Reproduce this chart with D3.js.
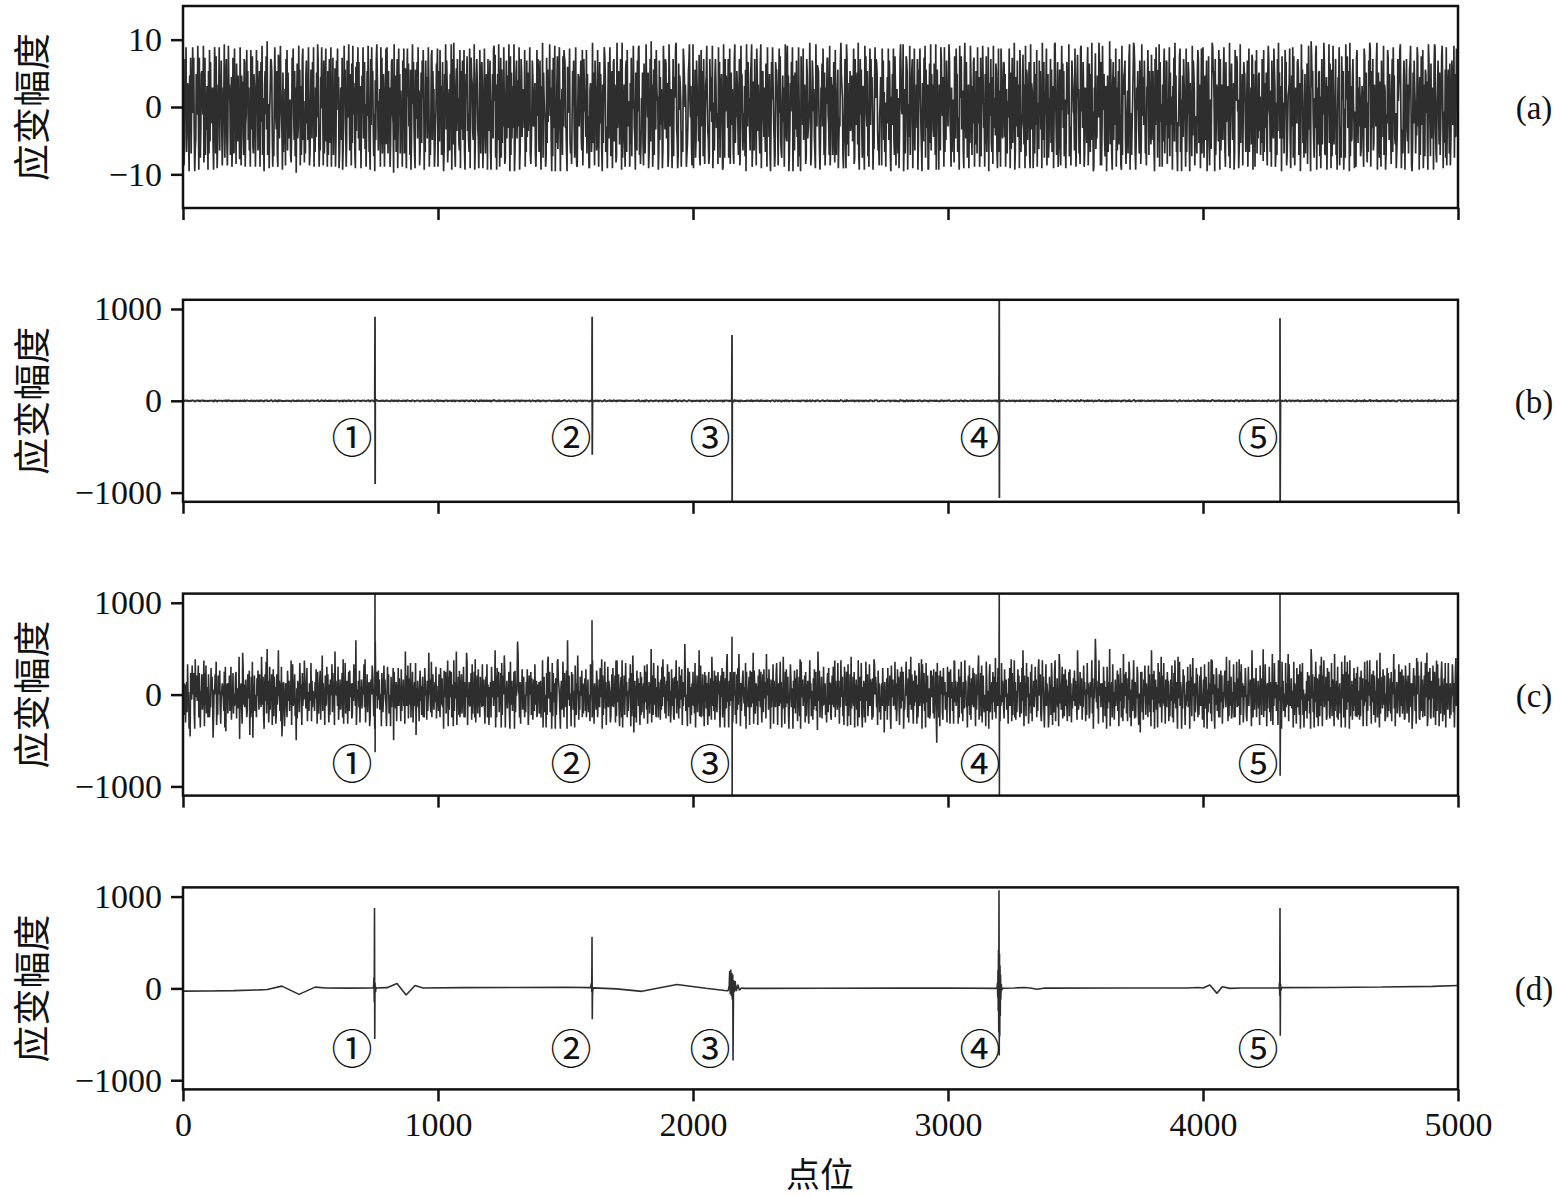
<!DOCTYPE html>
<html>
<head>
<meta charset="utf-8">
<script src="https://cdn.jsdelivr.net/npm/d3@7/dist/d3.min.js"></script>
<style>
  body { margin: 0; background: #fff; }
  svg text { font-family: "Liberation Serif", "Times New Roman", serif; fill: #111; }
  .cjk { font-family: "Noto Sans CJK SC", sans-serif; }
</style>
</head>
<body>
<svg id="chart" width="1560" height="1196"></svg>
<script>
// x positions (points) for the five impact events
var eventPos = [753, 1604, 2153, 3201, 4302];
var eventNames = ["①", "②", "③", "④", "⑤"];
var eventLabelX = [663, 1522, 2067, 3125, 4216];
var panelNames = ["(a)", "(b)", "(c)", "(d)"];
var xTicks = [0, 1000, 2000, 3000, 4000, 5000];

// (a) background noise, digit 0..9 -> -10..10
var noiseA = [
"7302859146620738155948301276495082137764902815364071928355620497183026591748302659147820396651470283",
"1946085273319507462188034957261409538217650394812670583915206748391250468873021596437108825964307152",
"6083917425510386942716058239470613892504178362950147628390516274983021769450813692407158239064815370",
"2859470136628014957302846951730829465107384928156037492681503749612083957314062897415360928147503692",
"9417360258843092571680394716250839147206958341702695831074582936014728596031847259603148927560134879",
"0572936148201749386025617390482951067384521906738249105768342190587632490157863204951786023941576083",
"3681045729958160372940581726394015827639408172563901478265390148726553904182735691024873356102948713",
"8206391754401827365946207183590426813794052618398833107456921204768315920047736582190386452917340066",
"5139274086612950383741062598713304826951470388265019347726850913462078193554062817496320751849913025",
"4720851396647013829560271843965501827364019753882460197356204817569932018476502319874650123789546201",
"9053712864428105936718204679532018647390251786344092815673009218476538129047365108924476315802957314",
"2617094385531789026418350973642189057742631850946271038596420187753069482115736049822957013648590271",
"7348260951108473926650187234596013874621095387741026583941702658843190275614830921567024389765103482",
"0982615473376259018436729105847316620958437120693857402169588731204576093826150447392861054739218606",
"6215038974459026138870452913678042915364802779531064285917346005829174632851907743062198547309162854",
"3798420615540832967142095783361079528413605297416388052761934702815596340728153906648217093542871039",
"1460973258827036154493071682549017348256097133485260917725481093665028147390521847360925814469037125",
"5827136049963148025720694837152038674912305876441920378561209947385016642790385172934006581327649850",
"8039547216604715392851068274390615728430091657782034615890421357998102647531860294473851206695174328",
"2574108396617290843506279143880526917345065829471203368915047286530914487206351928760433179825604917",
"9316725804482053169977408136552970813642795108346621907584236019758845013926470587731268049153628807",
"4608391527735142860915637207984416085329760151839472660832514978013566920473918205643887126039572415",
"7152804963309867421538904627715038264981157036492860713942558120476903318657024195683470916227853041",
"0894263751156420983372051869904738126553890472163085729166014398527430681957224013856799402316870538",
"3261578940027386514298360714853902617746209853182465079931056842713589604427190367518025863491722965"
].join("");

// (c) measurement noise, digit 0..9 -> about -580..580
var noiseC = [
"4563524637452316547456328546457364254634582647354365243756413546572436547324565436271546354634725463",
"5346725435814563287453564236547152637154635426475365438546325647384624735462573645236458463527135642",
"3654275463548267345634152645376542635486534725436547263545364752643567254836452634756425364573645285",
"6453724563456382547356425637456235476549235463725463546738254635462356476534295463574635426534756432",
"4756345263547165436254736452735463528546372564735462356471536452674534625376452634856437256435647253",
"5364275463527456345826374563452736548254637245634572635487254634562735463824563745265437456325647354",
"2546375463548263745635462736548725463546327456354627354698543625473564253647523645736425637456235463",
"4635472563452637845634527364552634786543256347526345729546345275634527436584253645726354637254635427",
"5647352645376245637458263547362547365423564735462837456324563725463574625346572634851463527463542736",
"3546275463725463548265374563254736452637485463526475364523746532645736452736457263549635427536425364",
"6453725463548367254635274635426735462854637256435746325647356425637845263745632574635263748562534675",
"4537264535627436548275346352647536425637456285463745263547265436752643574625384526374563245763542637",
"5364725463827546354627354632574635426375463518647354625374563425637456325647358264537462537456342756",
"4652735462835463725463527436547325463527456345736542635874653427563425637451635462735463275463547362",
"3756425637456243567453627548365426375462534763548275463527456345236745637254630745362745632754635427",
"5463275463528746354627356473526437563425647352645736542635478254637256435427635426735462754638256473",
"6425374653274563542637458263547362534756425637485264537456235463725463574625378456324756324573654236",
"4537625436725463528746357246357463254637562435647365428635473562437564253746523645736254698463527456",
"3645274635427365482546373524635473625476354283645736254763524635742635476325417463526475364527463528",
"5463725643527465348256473526437562435647352647536428547365243756425364735627463584526347562435647352",
"4627356425374653827456325476354263574625346753845263745623547362547365482637546235476324573656428534",
"6354725463527463549263745263547362548263745634527456352746354273645827354635427365427356437256473524",
"4536274563528746352647536425637485264735462375463254736542835463725463527456348265374562735462537463",
"5627345263745625374652836457352645736425473654283546375462354726354637256483725463547326547356423765",
"3465273546235746352847563245736245637458236547326547356425837462543675245637246537452635476352478356"
].join("");

// spike values at each event (consecutive samples)
var spikeB = [[916, -906], [510, 916, -587], [717, -1150], [1150, -1058], [899, -1150]];
var spikeC = [[1150, -627], [811, -250], [630, -1150], [1150, -1150], [1150, -883]];

// (d) denoised result: slow baseline and the bursts at the events
var dBase = [[0,-30],[100,-28],[200,-24],[300,-16],[330,-12],[388,25],[455,-65],[518,14],[560,5],[650,3],[745,5],
  [760,5],[800,8],[839,54],[875,-72],[910,32],[941,5],[1100,8],[1300,10],[1500,12],[1598,8],
  [1610,6],[1700,-5],[1800,-32],[1870,8],[1937,43],[2050,2],[2133,-25],
  [2200,0],[2500,2],[2800,3],[3000,5],[3190,0],
  [3216,2],[3260,5],[3300,10],[3322,5],[3350,-10],[3380,5],[3400,3],[3700,5],[3937,5],[3980,10],[4000,5],
  [4027,36],[4055,-54],[4075,18],[4106,0],[4150,5],[4296,5],
  [4310,8],[4500,10],[4700,15],[4900,22],[5000,32]];
var dBursts = [[747,10],[749,120],[750,-150],[751,876],[752,-551],[753,60],[755,-40],[757,10],
  [1602,60],[1603,-40],[1604,562],[1605,-335],[1606,-60],[1608,5],
  [2138,-25],[2142,30],[2144,190],[2146,-60],[2148,205],[2150,-80],[2152,170],[2154,-120],[2156,150],[2157,-786],
  [2159,90],[2162,-40],[2165,80],[2170,-30],[2176,40],[2182,-20],[2190,5],
  [3192,0],[3194,60],[3195,-100],[3196,200],[3197,-250],[3198,420],[3199,-480],[3200,1070],[3201,-732],
  [3202,380],[3203,-520],[3204,250],[3205,-300],[3206,150],[3207,-120],[3209,50],[3211,-20],[3214,0],
  [4299,5],[4300,60],[4301,-80],[4302,876],[4303,-516],[4304,50],[4306,-20],[4308,5]];

// coarse digit + fine digit from the other record -> sample value
function valA(i) { return -9 + 2 * (+noiseA[i]) + (+noiseC[i] - 4.5) * 0.22; }
function valC(i) { return (+noiseC[i] - 4.5) * 124 + (+noiseA[i] - 4.5) * 14; }

function noiseSeries(n, toVal, spikes) {
  var step = 5000 / n, pts = [];
  for (var i = 0; i < n; i++) pts.push([i * step, toVal(i)]);
  if (spikes) spikes.forEach(function (vals, j) {
    vals.forEach(function (v, k) { pts.push([eventPos[j] + k * 0.5, v]); });
  });
  pts.sort(function (p, q) { return p[0] - q[0]; });
  return pts;
}

var n = Math.min(noiseA.length, noiseC.length);
var seriesA = noiseSeries(n, valA);
var seriesB = noiseSeries(n, valA, spikeB);
var seriesC = noiseSeries(n, valC, spikeC);
var seriesD = dBase.concat(dBursts).sort(function (p, q) { return p[0] - q[0]; });

var panels = [
  { series: seriesA, dom: [-15, 15], ticks: [-10, 0, 10], labY: null, sw: 1.7 },
  { series: seriesB, dom: [-1100, 1100], ticks: [-1000, 0, 1000], labY: -370, sw: 1.8 },
  { series: seriesC, dom: [-1100, 1100], ticks: [-1000, 0, 1000], labY: -728, sw: 1.6 },
  { series: seriesD, dom: [-1100, 1100], ticks: [-1000, 0, 1000], labY: -630, sw: 1.6 }
];

var svg = d3.select("#chart");
var left = 183, right = 1458, ph = 202;
var x = d3.scaleLinear().domain([0, 5000]).range([left, right]);
var fmt = d3.format("d");

panels.forEach(function (p, i) {
  var top = 6 + i * 293.8;
  var y = d3.scaleLinear().domain(p.dom).range([top + ph, top]);

  svg.append("clipPath").attr("id", "clip" + i)
    .append("rect").attr("x", left).attr("y", top).attr("width", right - left).attr("height", ph);

  var line = d3.line().x(function (d) { return x(d[0]); }).y(function (d) { return y(d[1]); });
  svg.append("path").datum(p.series)
    .attr("clip-path", "url(#clip" + i + ")")
    .attr("d", line)
    .attr("fill", "none").attr("stroke", "#2e2e2e").attr("stroke-width", p.sw)
    .attr("stroke-linejoin", "bevel");

  // frame
  svg.append("rect").attr("x", left).attr("y", top).attr("width", right - left).attr("height", ph)
    .attr("fill", "none").attr("stroke", "#111").attr("stroke-width", 2.5);

  var ya = svg.append("g").attr("transform", "translate(" + left + ",0)")
    .call(d3.axisLeft(y).tickValues(p.ticks).tickSize(12).tickSizeOuter(0).tickPadding(9).tickFormat(fmt));
  var xa = svg.append("g").attr("transform", "translate(0," + (top + ph) + ")")
    .call(d3.axisBottom(x).tickValues(xTicks).tickSize(12).tickSizeOuter(0).tickPadding(10)
      .tickFormat(i === 3 ? fmt : function () { return ""; }));
  [ya, xa].forEach(function (a) {
    a.select(".domain").remove();
    a.selectAll(".tick line").attr("stroke", "#111").attr("stroke-width", 2.5);
    a.selectAll(".tick text").style("font-family", "'Liberation Serif', serif").style("font-size", "34px").attr("fill", "#111");
  });

  svg.append("text").attr("class", "cjk")
    .attr("transform", "translate(30," + (top + ph / 2) + ") rotate(-90)")
    .attr("text-anchor", "middle").attr("dominant-baseline", "central")
    .style("font-size", "37px").text("应变幅度");

  svg.append("text").attr("x", 1534).attr("y", top + ph / 2 + 1)
    .attr("text-anchor", "middle").attr("dominant-baseline", "central")
    .style("font-size", "33px").text(panelNames[i]);

  if (p.labY !== null) {
    eventNames.forEach(function (t, j) {
      svg.append("text").attr("class", "cjk")
        .attr("x", x(eventLabelX[j])).attr("y", y(p.labY))
        .attr("text-anchor", "middle").attr("dominant-baseline", "central")
        .style("font-size", "41px").text(t);
    });
  }
});

svg.append("text").attr("class", "cjk").attr("x", 820).attr("y", 1172)
  .attr("text-anchor", "middle").attr("dominant-baseline", "central")
  .style("font-size", "34px").text("点位");
</script>
</body>
</html>
